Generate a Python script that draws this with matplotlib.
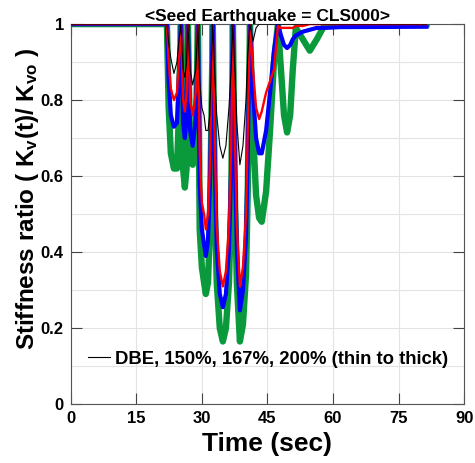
import matplotlib
matplotlib.use("Agg")
import matplotlib.pyplot as plt
from matplotlib.ticker import MultipleLocator

plt.rcParams['font.family'] = ['Liberation Sans', 'DejaVu Sans']
plt.rcParams['font.weight'] = 'bold'
plt.rcParams['mathtext.fontset'] = 'custom'
plt.rcParams['mathtext.rm'] = 'Liberation Sans:bold'
plt.rcParams['mathtext.it'] = 'Liberation Sans:bold'
plt.rcParams['mathtext.bf'] = 'Liberation Sans:bold'

# ---- data (time in sec, stiffness ratio) ----
time = [0, 21.5, 22.0, 22.4, 22.9, 23.6, 24.3, 24.7, 25.2, 25.7, 26.1, 26.5, 26.8,
        27.3, 27.9, 28.6, 29.1, 29.5, 30.0, 30.5, 30.9, 31.4, 31.8, 32.5,
        33.0, 33.4, 34.1, 34.8, 35.5, 36.2, 36.7, 37.1, 37.6, 38.0, 38.7,
        39.4, 40.1, 40.5, 41.0, 41.7, 42.4, 43.1, 43.7, 44.7, 45.6, 46.5,
        47.4, 48.1, 48.8, 49.5, 50.2, 50.8, 51.5, 53.1, 54.7, 56.3, 58.2,
        61.6, 81.4]

dbe = [1, 1, 1, 0.95, 0.91, 0.87, 0.90, 0.95, 1, 0.88, 0.86, 0.90, 1,
       0.88, 0.84, 0.88, 1, 0.85, 0.78, 0.76, 0.72, 0.72, 0.76, 1,
       0.85, 0.76, 0.68, 0.647, 0.68, 0.78, 0.88, 1, 0.86, 0.74, 0.63,
       0.68, 0.80, 0.92, 1, 0.955, 0.99, 1, 1, 1, 1, 1,
       1, 1, 1, 1, 1, 1, 1, 1, 1, 1, 1,
       1, 1]

p150 = [1, 1, 1, 0.90, 0.83, 0.80, 0.82, 0.90, 1, 0.80, 0.77, 0.82, 1,
        0.80, 0.76, 0.82, 1, 0.66, 0.53, 0.50, 0.46, 0.50, 0.62, 1,
        0.66, 0.47, 0.35, 0.31, 0.35, 0.47, 0.68, 1, 0.68, 0.47, 0.31,
        0.36, 0.50, 0.72, 1, 0.88, 0.78, 0.75, 0.77, 0.82, 0.85, 0.88,
        0.995, 0.99, 0.99, 0.99, 0.99, 0.99, 0.995, 0.995, 1, 1, 1,
        1, 1]

p167 = [1, 1, 1, 0.85, 0.76, 0.73, 0.74, 0.85, 1, 0.74, 0.70, 0.76, 1,
        0.72, 0.68, 0.75, 1, 0.58, 0.46, 0.42, 0.39, 0.43, 0.56, 1,
        0.60, 0.41, 0.29, 0.255, 0.29, 0.41, 0.62, 1, 0.62, 0.41, 0.247,
        0.30, 0.44, 0.66, 1, 0.82, 0.70, 0.66, 0.66, 0.72, 0.82, 0.93,
        1, 0.97, 0.945, 0.937, 0.945, 0.96, 0.97, 0.98, 0.985, 0.99, 0.99,
        0.992, 0.993]

p200 = [1, 1, 1, 0.78, 0.66, 0.62, 0.62, 0.75, 1, 0.62, 0.57, 0.62, 1,
        0.68, 0.63, 0.70, 1, 0.46, 0.36, 0.32, 0.29, 0.32, 0.45, 1,
        0.50, 0.32, 0.20, 0.165, 0.20, 0.32, 0.52, 1, 0.52, 0.32, 0.165,
        0.21, 0.34, 0.56, 1, 0.72, 0.55, 0.49, 0.48, 0.56, 0.72, 0.90,
        1, 0.88, 0.76, 0.715, 0.76, 0.88, 0.99, 0.96, 0.93, 0.96, 1.0,
        1, 1]

xticks = [0, 15, 30, 45, 60, 75, 90]
yticks = [0, 0.2, 0.4, 0.6, 0.8, 1]
ytick_labels = ['0', '0.2', '0.4', '0.6', '0.8', '1']

fig = plt.figure(figsize=(4.75, 4.63), dpi=100)
ax = fig.add_axes([0.149, 0.127, 0.828, 0.821])

ax.plot(time, p200, color='#0A9A3C', lw=4.6, solid_joinstyle='round', zorder=3)
ax.plot(time, p167, color='#0000FF', lw=3.0, solid_joinstyle='round', zorder=4)
ax.plot(time, p150, color='#FF0000', lw=1.7, solid_joinstyle='round', zorder=5)
ax.plot(time, dbe, color='black', lw=0.8, zorder=6,
        label='DBE, 150%, 167%, 200% (thin to thick)')

ax.set_xlim(0, 90)
ax.set_ylim(0, 1)
ax.set_xticks(xticks)
ax.set_xticklabels([str(v) for v in xticks])
ax.set_yticks(yticks)
ax.set_yticklabels(ytick_labels)
ax.yaxis.set_minor_locator(MultipleLocator(0.1))
ax.grid(True, which='both', color='#E3E3E3', lw=0.8, zorder=0)
ax.set_axisbelow(True)
ax.tick_params(which='major', direction='in', length=8, width=0.8, color='#444444',
               top=True, right=True, labelsize=12, pad=5)
ax.tick_params(which='minor', length=0, top=True, right=True)
for lab in ax.get_xticklabels() + ax.get_yticklabels():
    lab.set_fontweight('bold')
for s in ax.spines.values():
    s.set_color('#555555')
    s.set_linewidth(0.8)

ax.set_xlabel('Time (sec)', fontsize=19, fontweight='bold', labelpad=4)
ax.set_ylabel(r'Stiffness ratio ( K$_{v}$(t)/ K$_{vo}$ )', fontsize=17.5,
              fontweight='bold')
ax.yaxis.set_label_coords(-0.075, 0.54)
ax.set_title('<Seed Earthquake = CLS000>', fontsize=12.5, fontweight='bold', pad=2)

leg = ax.legend(loc='center left', bbox_to_anchor=(0.043, 0.118), frameon=False,
                borderpad=0, borderaxespad=0, handlelength=1.2, handletextpad=0.3,
                prop={'family': 'Liberation Sans', 'weight': 'bold', 'size': 13.3})

fig.savefig('out.png', dpi=100)
